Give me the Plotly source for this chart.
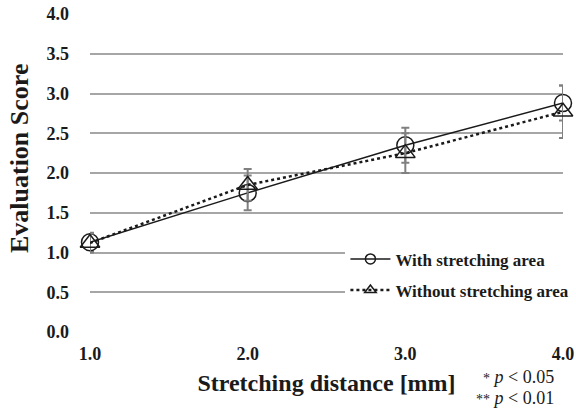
import plotly.graph_objects as go

distance = [1.0, 2.0, 3.0, 4.0]
with_area = [1.13, 1.75, 2.35, 2.88]
with_err = [0.12, 0.22, 0.22, 0.22]
without_area = [1.12, 1.85, 2.25, 2.77]
without_err = [0.12, 0.20, 0.25, 0.33]
y_ticks = [0.0, 0.5, 1.0, 1.5, 2.0, 2.5, 3.0, 3.5, 4.0]
x_ticks = [1.0, 2.0, 3.0, 4.0]
series_names = ["With stretching area", "Without stretching area"]

FONT = "Liberation Serif"
INK = "#1a1a1a"

fig = go.Figure()
fig.add_trace(go.Scatter(
    x=distance, y=with_area, mode="lines+markers", name=series_names[0],
    showlegend=False,
    line=dict(color=INK, width=1.5),
    marker=dict(symbol="circle-open", size=17, color=INK, line=dict(width=1.5)),
    error_y=dict(type="data", array=with_err, color="#808080", thickness=2, width=4),
    cliponaxis=False,
))
fig.add_trace(go.Scatter(
    x=distance, y=without_area, mode="lines+markers", name=series_names[1],
    showlegend=False,
    line=dict(color=INK, width=2.5, dash="dot"),
    marker=dict(symbol="triangle-up-open", size=17, color=INK, line=dict(width=1.5)),
    error_y=dict(type="data", array=without_err, color="#808080", thickness=2, width=4),
    cliponaxis=False,
))
# legend entries (smaller symbols, as in the reference legend)
fig.add_trace(go.Scatter(
    x=[None], y=[None], mode="lines+markers", name=series_names[0], legendgroup="a",
    line=dict(color=INK, width=1.5),
    marker=dict(symbol="circle-open", size=10, color=INK, line=dict(width=1.5)),
))
fig.add_trace(go.Scatter(
    x=[None], y=[None], mode="lines+markers", name=series_names[1], legendgroup="b",
    line=dict(color=INK, width=2.5, dash="dot"),
    marker=dict(symbol="triangle-up-open", size=10, color=INK, line=dict(width=1.5)),
))

fig.update_layout(
    width=576, height=411,
    margin=dict(l=90, r=13, t=14, b=79, autoexpand=False),
    plot_bgcolor="white", paper_bgcolor="white",
    font=dict(family=FONT, color=INK),
    showlegend=True,
    legend=dict(
        x=0.540, y=0.285, xanchor="left", yanchor="top",
        bgcolor="white", borderwidth=0,
        font=dict(family=FONT, size=17, color=INK, weight="bold"),
        tracegroupgap=6, itemwidth=40,
    ),
    shapes=[dict(type="rect", xref="paper", yref="paper", x0=0.514, x1=1.03,
                 y0=0.10, y1=0.29, fillcolor="white", line=dict(width=0),
                 layer="between")],
    xaxis=dict(
        range=[1.0, 4.0], tickvals=x_ticks, ticktext=[f"{v:.1f}" for v in x_ticks],
        showgrid=False, zeroline=False, showline=False, ticks="", automargin=False,
        ticklabelstandoff=9,
        tickfont=dict(family=FONT, size=18, weight="bold", color=INK),
        title=dict(text="Stretching distance [mm]", standoff=11,
                   font=dict(family=FONT, size=24, weight="bold", color=INK)),
    ),
    yaxis=dict(
        range=[0, 4.0], tickvals=y_ticks, ticktext=[f"{v:.1f}" for v in y_ticks],
        showgrid=True, gridcolor="#a6a6a6", gridwidth=1.5, zeroline=False, showline=False,
        ticks="", ticklabelstandoff=20, automargin=False,
        tickfont=dict(family=FONT, size=18, weight="bold", color=INK),
    ),
    annotations=[
        dict(text="<b>Evaluation Score</b>", xref="paper", yref="paper", x=-0.150, y=0.544,
             xanchor="center", yanchor="middle", textangle=-90, showarrow=False,
             font=dict(family=FONT, size=26, color=INK)),
        dict(text="<span style='font-size:14px'>*</span> <i>p</i> &lt; 0.05", xref="paper", yref="paper",
             x=0.985, y=-0.1415, xanchor="right", yanchor="middle", showarrow=False,
             font=dict(family=FONT, size=18, color=INK)),
        dict(text="<span style='font-size:14px'>**</span> <i>p</i> &lt; 0.01", xref="paper", yref="paper",
             x=0.985, y=-0.2075, xanchor="right", yanchor="middle", showarrow=False,
             font=dict(family=FONT, size=18, color=INK)),
    ],
)

fig.write_html("out.html", config={"displayModeBar": False},
               post_script="document.body.style.margin='0';document.body.style.overflow='hidden';")
